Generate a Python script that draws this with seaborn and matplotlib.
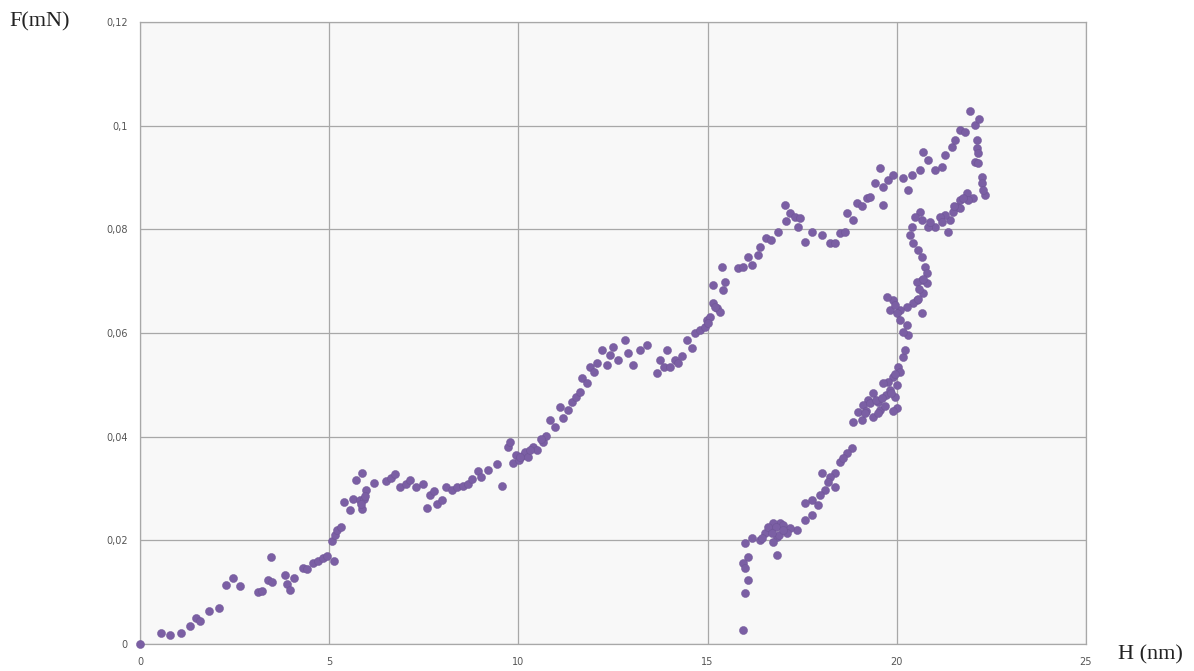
import numpy as np
import pandas as pd
import matplotlib
matplotlib.use("Agg")
import matplotlib.pyplot as plt
import seaborn as sns
from matplotlib.ticker import FuncFormatter

# === Data (H in nm, F in mN) ===
# loading branch
h_load = [0.00, 0.55, 0.79, 1.08, 1.32, 1.48, 1.59, 1.82, 2.09, 2.27, 2.46, 2.64, 3.12, 3.22, 3.38,
          3.46, 3.49, 3.83, 3.88, 3.96, 4.07, 4.31, 4.41, 4.57, 4.70, 4.84, 4.94, 5.13, 5.07, 5.15,
          5.21, 5.31, 5.39, 5.55, 5.63, 5.71, 5.87, 5.81, 5.87, 5.92, 5.97, 6.18, 6.50, 6.63, 6.74,
          6.87, 7.03, 7.14, 7.29, 7.48, 7.58, 7.66, 7.77, 7.85, 7.98, 8.09, 8.25, 8.38, 8.54, 8.67,
          8.77, 8.93, 9.01, 9.20, 9.43, 9.57, 9.73, 9.78, 9.86, 9.94, 10.02, 10.10, 10.17, 10.25, 10.39,
          10.49, 10.65, 10.73, 10.83, 10.97, 11.10, 11.18, 11.31, 11.42, 11.52, 11.63, 11.68, 11.81, 11.89, 12.00,
          12.08, 12.21, 12.34, 12.42, 12.50, 12.63, 12.82, 12.90, 13.03, 13.21, 13.40, 13.66, 13.74, 13.85, 13.93,
          14.01, 14.14, 14.22, 14.32, 14.46, 14.59, 14.67, 14.80, 14.93, 14.98, 15.06, 15.14, 15.25, 15.33, 15.14,
          15.38, 15.46, 15.41, 15.80, 15.94, 16.07, 16.17, 16.33, 16.38, 16.54, 16.68, 16.86, 17.05, 17.07, 17.18,
          17.31, 17.44, 17.39, 17.57, 17.76, 18.02, 18.23, 18.37, 18.50, 18.63, 18.68, 18.84, 18.95, 19.08, 19.21,
          19.29, 19.42, 19.56, 19.64, 19.64, 19.77, 19.90, 20.16, 20.30, 20.40, 20.61, 20.69, 20.82, 21.01, 21.19,
          21.27, 21.46, 21.54, 21.67, 21.80, 21.93, 22.07, 22.17, 22.12, 22.12, 22.15, 22.07, 22.15, 22.25, 22.25,
          22.33]
f_load = [0.0000, 0.0021, 0.0017, 0.0021, 0.0035, 0.0050, 0.0044, 0.0064, 0.0069, 0.0114, 0.0127, 0.0112, 0.0100, 0.0102, 0.0123,
          0.0168, 0.0120, 0.0133, 0.0116, 0.0104, 0.0127, 0.0147, 0.0145, 0.0156, 0.0160, 0.0166, 0.0170, 0.0160, 0.0199, 0.0210,
          0.0220, 0.0226, 0.0274, 0.0259, 0.0280, 0.0316, 0.0330, 0.0278, 0.0260, 0.0280, 0.0297, 0.0311, 0.0314, 0.0320, 0.0328,
          0.0303, 0.0309, 0.0316, 0.0303, 0.0309, 0.0262, 0.0287, 0.0295, 0.0270, 0.0278, 0.0303, 0.0297, 0.0303, 0.0305, 0.0309,
          0.0318, 0.0334, 0.0322, 0.0336, 0.0347, 0.0305, 0.0380, 0.0390, 0.0349, 0.0365, 0.0355, 0.0363, 0.0370, 0.0361, 0.0380,
          0.0374, 0.0390, 0.0401, 0.0432, 0.0419, 0.0457, 0.0436, 0.0451, 0.0467, 0.0477, 0.0486, 0.0513, 0.0504, 0.0534, 0.0525,
          0.0542, 0.0567, 0.0538, 0.0558, 0.0573, 0.0548, 0.0587, 0.0561, 0.0538, 0.0567, 0.0577, 0.0523, 0.0548, 0.0534, 0.0567,
          0.0534, 0.0548, 0.0542, 0.0556, 0.0587, 0.0571, 0.0600, 0.0606, 0.0612, 0.0625, 0.0631, 0.0658, 0.0648, 0.0641, 0.0693,
          0.0727, 0.0698, 0.0683, 0.0725, 0.0727, 0.0747, 0.0731, 0.0751, 0.0766, 0.0783, 0.0779, 0.0795, 0.0847, 0.0816, 0.0832,
          0.0824, 0.0822, 0.0805, 0.0776, 0.0795, 0.0789, 0.0774, 0.0774, 0.0793, 0.0795, 0.0832, 0.0818, 0.0851, 0.0845, 0.0860,
          0.0862, 0.0889, 0.0918, 0.0882, 0.0847, 0.0895, 0.0905, 0.0899, 0.0876, 0.0905, 0.0914, 0.0949, 0.0934, 0.0914, 0.0920,
          0.0943, 0.0959, 0.0972, 0.0992, 0.0988, 0.1028, 0.1001, 0.1013, 0.0972, 0.0957, 0.0947, 0.0930, 0.0928, 0.0901, 0.0889,
          0.0866]

# unloading branch
h_unload = [22.28, 22.01, 21.86, 21.67, 21.59, 21.49, 21.41, 21.35, 21.27, 21.14, 21.01, 20.82, 20.67, 20.61, 20.48,
            20.40, 20.35, 20.43, 20.67, 20.75, 20.80, 20.67, 20.53, 20.80, 20.69, 20.53, 20.43, 20.67, 20.27, 20.08,
            19.90, 19.74, 19.82, 20.01, 20.08, 20.27, 20.30, 20.16, 20.16, 20.03, 19.90, 19.77, 19.64, 19.95, 20.01,
            19.37, 19.24, 19.11, 18.97, 18.84, 19.37, 19.50, 19.71, 18.82, 18.68, 18.50, 18.37, 18.23, 18.02, 18.37,
            18.10, 17.97, 17.76, 17.57, 17.76, 17.57, 17.36, 17.18, 16.91, 16.73, 16.65, 16.83, 16.73, 16.83, 16.52,
            16.38, 16.17, 15.99, 16.07, 15.94, 15.99, 16.07, 15.99, 15.94, 16.99, 17.10, 17.92, 18.18, 18.58, 19.08,
            19.56, 19.82, 20.08, 20.22, 19.95, 20.56, 20.88, 21.67, 21.88]
f_unload = [0.0876, 0.0860, 0.0870, 0.0857, 0.0843, 0.0834, 0.0818, 0.0795, 0.0828, 0.0824, 0.0805, 0.0805, 0.0818, 0.0834, 0.0824,
            0.0805, 0.0789, 0.0774, 0.0747, 0.0727, 0.0716, 0.0702, 0.0698, 0.0696, 0.0677, 0.0664, 0.0658, 0.0639, 0.0650, 0.0644,
            0.0664, 0.0669, 0.0644, 0.0639, 0.0625, 0.0615, 0.0596, 0.0602, 0.0554, 0.0534, 0.0515, 0.0505, 0.0504, 0.0477, 0.0455,
            0.0484, 0.0471, 0.0461, 0.0448, 0.0428, 0.0438, 0.0467, 0.0480, 0.0378, 0.0369, 0.0351, 0.0330, 0.0322, 0.0330, 0.0303,
            0.0297, 0.0287, 0.0278, 0.0272, 0.0249, 0.0239, 0.0220, 0.0224, 0.0233, 0.0233, 0.0220, 0.0206, 0.0197, 0.0172, 0.0214,
            0.0201, 0.0205, 0.0195, 0.0168, 0.0156, 0.0147, 0.0123, 0.0098, 0.0027, 0.0230, 0.0214, 0.0268, 0.0313, 0.0359, 0.0432,
            0.0451, 0.0490, 0.0525, 0.0567, 0.0654, 0.0760, 0.0814, 0.0841, 0.0857]

# extra points in the densest clusters
h_dense = [19.20, 19.30, 19.45, 19.60, 19.70, 19.85, 19.90, 19.50, 19.15, 20.00, 19.95,
           16.60, 16.80, 16.90, 17.00, 16.45, 16.70, 10.05, 10.30, 10.60,
           20.60, 20.70, 20.55, 21.50, 21.75, 21.20, 5.85, 5.95, 15.20, 15.00]
f_dense = [0.0450, 0.0465, 0.0470, 0.0475, 0.0460, 0.0485, 0.0450, 0.0445, 0.0445, 0.0500, 0.0520,
           0.0225, 0.0225, 0.0210, 0.0220, 0.0205, 0.0215, 0.0360, 0.0375, 0.0395,
           0.0685, 0.0705, 0.0665, 0.0845, 0.0860, 0.0815, 0.0270, 0.0285, 0.0650, 0.0620]

x_ticks = [0, 5, 10, 15, 20, 25]
y_ticks = [0, 0.02, 0.04, 0.06, 0.08, 0.1, 0.12]

df = pd.DataFrame({"H": h_load + h_unload + h_dense, "F": f_load + f_unload + f_dense})

# === Plot ===
sns.set_style("white")
fig = plt.figure(figsize=(11.94, 6.71), dpi=100)
ax = fig.add_axes([0.1173, 0.0402, 0.7922, 0.9270])
ax.set_facecolor("#f8f8f8")

sns.scatterplot(data=df, x="H", y="F", ax=ax, color="#7b5fa4", s=34,
                edgecolor="#6c5394", linewidth=0.3, zorder=3, clip_on=False)

ax.set_xlim(0, 25)
ax.set_ylim(0, 0.12)
ax.set_xticks(x_ticks)
ax.set_yticks(y_ticks)
ax.grid(True, color="#a8a8a8", linewidth=0.9, zorder=0)
ax.set_axisbelow(True)

comma = FuncFormatter(lambda v, p: ("%g" % round(v, 3)).replace(".", ","))
ax.yaxis.set_major_formatter(comma)
ax.xaxis.set_major_formatter(comma)
ax.tick_params(axis="both", labelsize=7, colors="#555555", length=0, pad=9)

for s in ["left", "bottom", "top", "right"]:
    ax.spines[s].set_color("#a8a8a8")
    ax.spines[s].set_linewidth(0.9)

ax.set_xlabel("")
ax.set_ylabel("")
fig.text(0.008, 0.967, "F(mN)", fontsize=16, family="Liberation Serif", color="#222222", va="center", ha="left")
fig.text(0.936, 0.024, "H (nm)", fontsize=16, family="Liberation Serif", color="#222222", va="center", ha="left")

fig.savefig("out.png", dpi=100)
